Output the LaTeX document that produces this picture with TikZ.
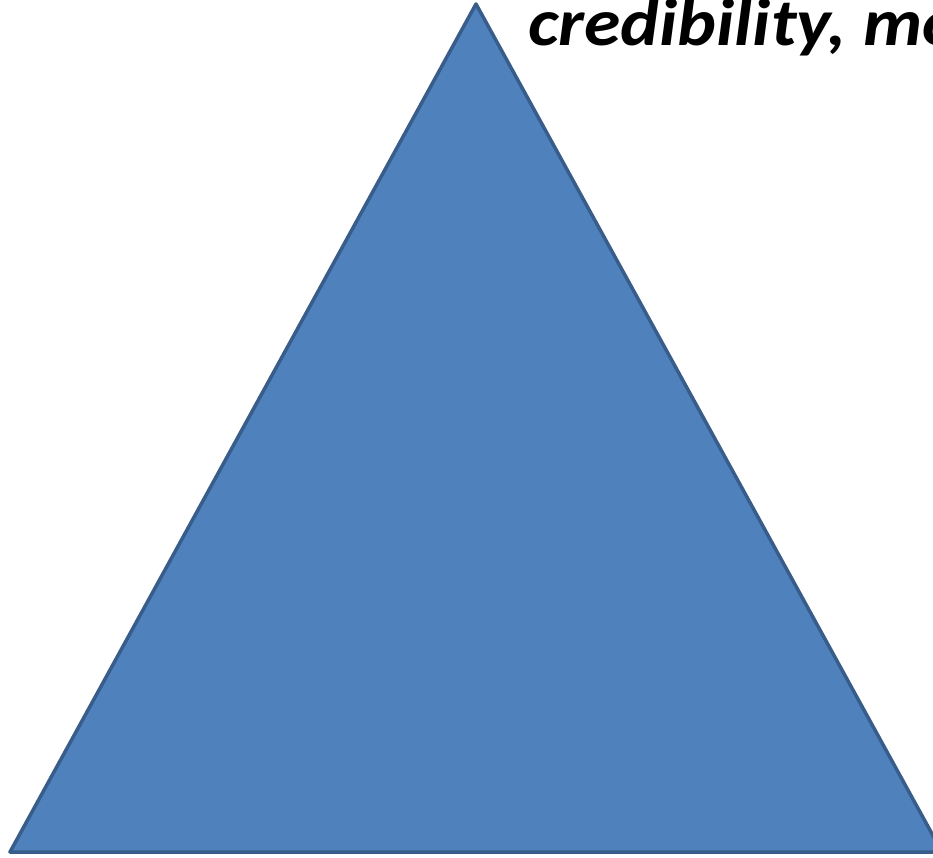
\documentclass[tikz,border=0pt]{standalone}
\usepackage{fontspec}
\setmainfont{Carlito}
\definecolor{trifill}{HTML}{4F81BD}
\definecolor{triline}{HTML}{385D8A}
\begin{document}
\begin{tikzpicture}[x=1pt,y=-1pt,
  tri/.style={fill=trifill,draw=triline,line width=3.5pt,line join=round},
  title/.style={anchor=base west,inner sep=0pt,xscale=1.1,transform shape,font=\fontsize{67}{72}\selectfont\bfseries\itshape}]
\useasboundingbox (0,0) rectangle (933,858);
\draw[tri] (476,4) -- (10,852) -- (942,852) -- cycle;
\node[title] (t) at (528,46) {credibility, mo};
\end{tikzpicture}
\end{document}
